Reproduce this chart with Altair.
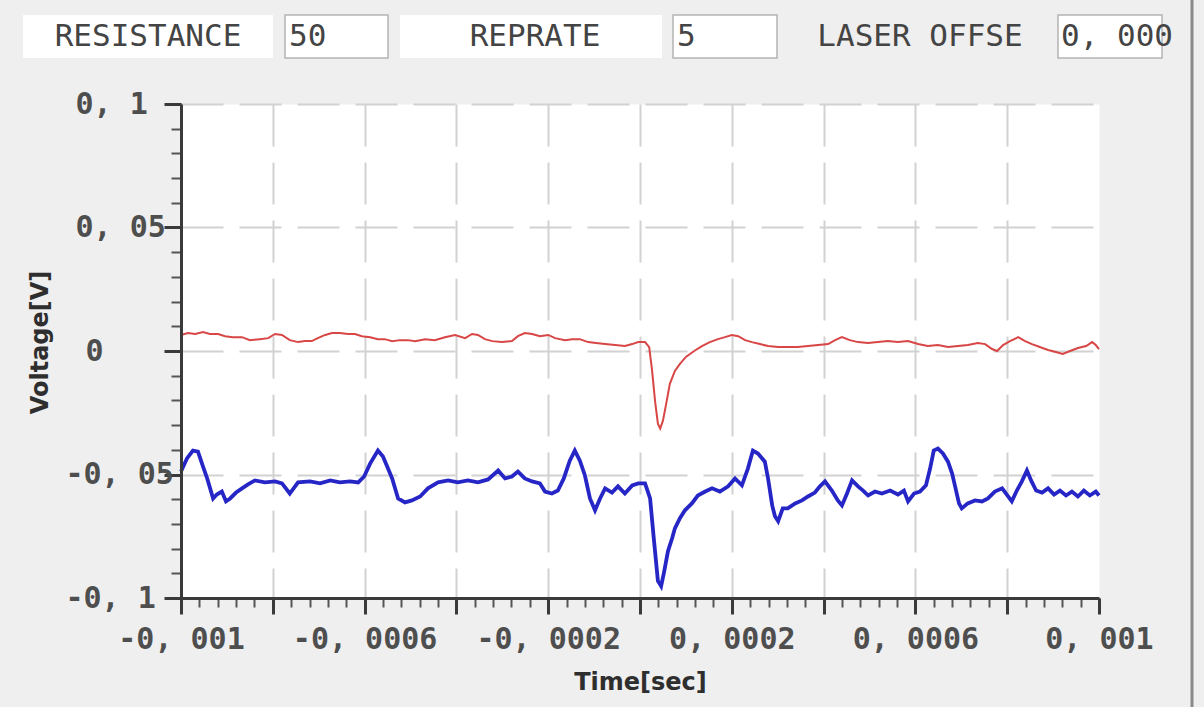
import altair as alt
import pandas as pd

# ---- data (time in microseconds, voltage in millivolts) ----
blue_t_us = [-1000, -987, -974, -963, -952, -943, -930, -922, -911, -902, -893, -880, -867, -854, -839,
             -817, -795, -780, -763, -745, -719, -697, -675, -654, -632, -614, -601, -588, -571, -560,
             -549, -540, -527, -512, -497, -479, -462, -440, -418, -397, -375, -353, -331, -309, -294,
             -279, -266, -251, -235, -218, -207, -192, -179, -166, -153, -142, -131, -120, -109, -98,
             -87, -76, -61, -48, -33, -17, -4, 11, 22, 30, 39, 46, 52, 61, 70,
             76, 87, 98, 113, 126, 142, 157, 174, 192, 207, 222, 235, 246, 257, 272,
             279, 288, 294, 301, 311, 322, 338, 353, 366, 381, 392, 403, 418, 431, 440,
             451, 462, 475, 486, 497, 512, 527, 545, 562, 575, 584, 597, 610, 623, 632,
             640, 649, 660, 671, 680, 686, 695, 701, 714, 730, 745, 758, 773, 789, 802,
             810, 821, 832, 843, 852, 863, 876, 889, 902, 915, 928, 941, 954, 967, 980,
             993, 1000]
blue_v_mv = [-48.8, -43.5, -40.3, -40.7, -46.8, -51.6, -59.7, -58.1, -56.9, -60.9, -59.7, -57.3, -55.6, -54.0, -52.4,
             -53.2, -52.8, -53.6, -57.7, -53.2, -52.8, -53.6, -52.4, -53.2, -52.8, -53.2, -50.8, -45.6, -40.3, -42.7,
             -47.6, -51.6, -59.7, -61.3, -60.5, -58.9, -55.6, -53.2, -52.4, -53.2, -52.4, -53.2, -52.0, -48.4, -51.6,
             -50.8, -48.8, -51.6, -52.8, -53.6, -56.9, -57.7, -56.5, -51.6, -44.4, -40.3, -44.4, -50.4, -59.7, -64.5,
             -59.7, -55.6, -57.3, -54.8, -57.7, -54.4, -53.6, -53.6, -59.7, -75.8, -93.1, -95.2, -89.9, -81.0, -75.8,
             -71.8, -67.7, -64.5, -61.7, -58.5, -56.9, -55.6, -56.9, -54.8, -51.6, -54.4, -47.6, -40.3, -41.5, -44.8,
             -51.6, -62.5, -66.9, -68.9, -63.7, -63.7, -61.7, -60.5, -58.9, -57.3, -54.8, -52.8, -56.5, -60.5, -62.5,
             -57.7, -52.4, -54.8, -56.5, -58.5, -56.9, -57.7, -56.5, -58.1, -56.5, -60.9, -57.7, -56.9, -54.4, -47.6,
             -40.3, -39.5, -41.5, -44.8, -49.6, -54.4, -61.7, -63.7, -61.7, -60.5, -60.9, -59.7, -56.9, -55.6, -58.9,
             -60.9, -56.5, -52.8, -48.4, -52.4, -56.5, -57.3, -55.6, -58.1, -56.5, -58.5, -56.9, -58.9, -56.5, -58.5,
             -56.9, -58.5]

red_t_us = [-1000, -985, -969, -952, -937, -919, -904, -887, -867, -850, -828, -810, -795, -780, -763,
            -745, -730, -715, -702, -686, -671, -654, -636, -621, -606, -588, -571, -556, -540, -523,
            -505, -490, -468, -447, -425, -403, -381, -366, -353, -338, -322, -301, -279, -266, -251,
            -235, -218, -200, -185, -163, -148, -131, -113, -96, -76, -54, -33, -17, -4, 11,
            20, 26, 33, 39, 44, 50, 57, 65, 76, 87, 100, 118, 135, 152, 170,
            185, 200, 214, 229, 244, 261, 279, 301, 322, 344, 366, 388, 410, 425, 440,
            457, 475, 497, 518, 540, 562, 584, 606, 627, 649, 671, 693, 714, 736, 752,
            767, 778, 791, 806, 824, 839, 854, 871, 889, 906, 921, 937, 954, 972, 985,
            993, 1000]
red_v_mv = [6.5, 7.3, 6.9, 7.7, 6.9, 6.9, 6.0, 5.6, 5.6, 4.4, 4.8, 5.2, 6.9, 6.5, 4.4,
            3.6, 4.0, 4.0, 5.2, 6.5, 7.3, 7.3, 6.9, 6.9, 6.0, 5.6, 4.8, 4.8, 4.0, 4.4,
            4.4, 4.0, 4.8, 4.4, 5.6, 6.5, 5.2, 6.9, 6.5, 4.8, 4.0, 3.6, 4.0, 6.0, 7.3,
            6.9, 6.0, 6.5, 5.2, 4.4, 4.8, 4.8, 3.6, 3.2, 2.8, 2.4, 2.0, 2.8, 3.6, 3.6,
            1.6, -7.3, -20.6, -29.4, -31.4, -28.2, -21.4, -13.3, -8.1, -5.2, -2.4, 0.0, 2.0, 3.6, 4.8,
            5.6, 6.5, 6.0, 4.4, 3.6, 2.8, 2.0, 1.6, 1.6, 1.6, 2.0, 2.4, 2.8, 4.4, 5.6,
            4.4, 3.6, 3.2, 3.6, 4.0, 3.6, 4.0, 2.8, 2.0, 2.4, 1.6, 2.0, 2.4, 3.2, 2.8,
            0.8, 0.0, 2.4, 4.0, 5.6, 4.0, 2.8, 1.6, 0.4, -0.4, -1.2, 0.0, 1.2, 2.0, 3.6,
            2.4, 0.8]

x_label_values = [-0.001, -0.0006, -0.0002, 0.0002, 0.0006, 0.001]
x_major_values = [-0.001, -0.0008, -0.0006, -0.0004, -0.0002, 0.0, 0.0002, 0.0004, 0.0006, 0.0008, 0.001]
x_grid_values = [-0.0008, -0.0006, -0.0004, -0.0002, 0.0, 0.0002, 0.0004, 0.0006, 0.0008]
x_minor_values = [round(-0.001 + i * 0.00004, 6) for i in range(51)]
y_label_values = [0.1, 0.05, 0.0, -0.05, -0.1]
y_grid_values = [0.1, 0.05, 0.0, -0.05]
y_minor_values = [round(-0.1 + i * 0.01, 3) for i in range(21)]

header_labels = ["RESISTANCE", "REPRATE", "LASER OFFSE"]
header_values = ["50", "5", "0, 000"]

df = pd.concat([
    pd.DataFrame({"t": [v / 1e6 for v in blue_t_us], "v": [v / 1e3 for v in blue_v_mv], "s": "blue"}),
    pd.DataFrame({"t": [v / 1e6 for v in red_t_us], "v": [v / 1e3 for v in red_v_mv], "s": "red"}),
], ignore_index=True)

W, H = 918, 494
xs = alt.Scale(domain=[-0.001, 0.001], nice=False, zero=False)
ys = alt.Scale(domain=[-0.1, 0.1], nice=False, zero=False)
MONO = "DejaVu Sans Mono"
AX = "#3a3a3a"


def axis_layer(xaxis, yaxis, xtitle=None, ytitle=None):
    return alt.Chart(df).mark_line(opacity=0).encode(
        x=alt.X("t:Q", scale=xs, axis=xaxis, title=xtitle),
        y=alt.Y("v:Q", scale=ys, axis=yaxis, title=ytitle),
    )


grid_layer = axis_layer(
    alt.Axis(orient="bottom", values=x_grid_values, grid=True, gridColor="#d2d2d2", gridWidth=2,
             gridDash=[42, 16], labels=False, ticks=False, domain=False, zindex=0),
    alt.Axis(orient="left", values=y_grid_values, grid=True, gridColor="#d2d2d2", gridWidth=2,
             gridDash=[42, 16], labels=False, ticks=False, domain=False, zindex=0),
)

minor_layer = axis_layer(
    alt.Axis(orient="bottom", values=x_minor_values, grid=False, labels=False, ticks=True,
             tickSize=9, tickWidth=2, tickColor="#555555", domain=False, zindex=1),
    alt.Axis(orient="left", values=y_minor_values, grid=False, labels=False, ticks=True,
             tickSize=10, tickWidth=2, tickColor="#555555", domain=False, zindex=1),
)

major_layer = axis_layer(
    alt.Axis(orient="bottom", values=x_major_values, grid=False, labels=False, ticks=True,
             tickSize=16, tickWidth=3, tickColor=AX, domain=True, domainColor=AX, domainWidth=3, zindex=1),
    alt.Axis(orient="left", values=y_label_values, grid=False, labels=False, ticks=True,
             tickSize=17, tickWidth=3, tickColor=AX, domain=True, domainColor=AX, domainWidth=3, zindex=1),
)

y_label_padding = {
    "condition": [
        {"test": "datum.value < 0", "value": 116},
        {"test": "datum.value == 0", "value": 96},
    ],
    "value": 106,
}

label_layer = axis_layer(
    alt.Axis(orient="bottom", values=x_label_values, grid=False, ticks=False, domain=False,
             labelExpr="(datum.value < 0 ? '-' : '') + replace(format(abs(datum.value), '.4~f'), '.', ', ')",
             labelFont=MONO, labelFontSize=30, labelFontWeight="bold", labelColor="#4e4e4e",
             labelBaseline="middle", labelPadding=41, labelFlush=False, labelOverlap=False,
             titleFont="DejaVu Sans", titleFontSize=24, titleFontWeight="bold", titleColor="#2e2e2e",
             titleY=84, titleX=459, titleBaseline="middle", titleAlign="center", zindex=1),
    alt.Axis(orient="left", values=y_label_values, grid=False, ticks=False, domain=False,
             labelExpr="(datum.value < 0 ? '-' : '') + replace(format(abs(datum.value), '.2~f'), '.', ', ')",
             labelFont=MONO, labelFontSize=30, labelFontWeight="bold", labelColor="#4e4e4e",
             labelAlign="left", labelBaseline="middle", labelPadding=y_label_padding, labelFlush=False,
             labelOverlap=False,
             titleFont="DejaVu Sans", titleFontSize=24, titleFontWeight="bold", titleColor="#2e2e2e",
             titleX=-141, titleY=238, titleAngle=270, titleBaseline="middle", titleAlign="center", zindex=1),
    xtitle="Time[sec]", ytitle="Voltage[V]",
)

red_line = alt.Chart(df).transform_filter(alt.datum.s == "red").mark_line(
    color="#d84646", strokeWidth=2).encode(
    x=alt.X("t:Q", scale=xs, axis=None),
    y=alt.Y("v:Q", scale=ys, axis=None),
)
blue_line = alt.Chart(df).transform_filter(alt.datum.s == "blue").mark_line(
    color="#2626c6", strokeWidth=3.8).encode(
    x=alt.X("t:Q", scale=xs, axis=None),
    y=alt.Y("v:Q", scale=ys, axis=None),
)

one = pd.DataFrame({"k": [0]})


def box(x0, x1, y0, y1, fill="white", stroke="white", sw=0):
    return alt.Chart(one).mark_rect(fill=fill, stroke=stroke, strokeWidth=sw).encode(
        x=alt.value(x0), x2=alt.value(x1), y=alt.value(y0), y2=alt.value(y1))


def txt(s, x, y, align):
    return alt.Chart(one).mark_text(text=s, font=MONO, fontSize=31, color="#444444",
                                    align=align, baseline="middle").encode(
        x=alt.value(x), y=alt.value(y))


header = [
    box(-158, 92, -89, -46),
    box(104, 207, -89, -46, stroke="#b4b4b4", sw=1.5),
    box(219, 481, -89, -46),
    box(492, 596, -89, -46, stroke="#b4b4b4", sw=1.5),
    box(877, 981, -89, -46, stroke="#b4b4b4", sw=1.5),
    txt(header_labels[0], -33, -67, "center"),
    txt(header_values[0], 108, -67, "left"),
    txt(header_labels[1], 354, -67, "center"),
    txt(header_values[1], 496, -67, "left"),
    txt(header_labels[2], 739, -67, "center"),
    txt(header_values[2], 880, -67, "left"),
    alt.Chart(one).mark_rule(color="#8a8a8a", strokeWidth=3).encode(
        x=alt.value(1011), y=alt.value(-104), y2=alt.value(603)),
]

chart = alt.layer(
    grid_layer, minor_layer, major_layer, label_layer, red_line, blue_line, *header
).resolve_axis(x="independent", y="independent").properties(
    width=W, height=H,
    autosize=alt.AutoSizeParams(type="none"),
    padding={"left": 181, "top": 104, "right": 105, "bottom": 109},
).configure(background="#efefef").configure_view(fill="white", stroke="transparent")

chart.save("out.html", embed_options={"renderer": "svg", "actions": False})
